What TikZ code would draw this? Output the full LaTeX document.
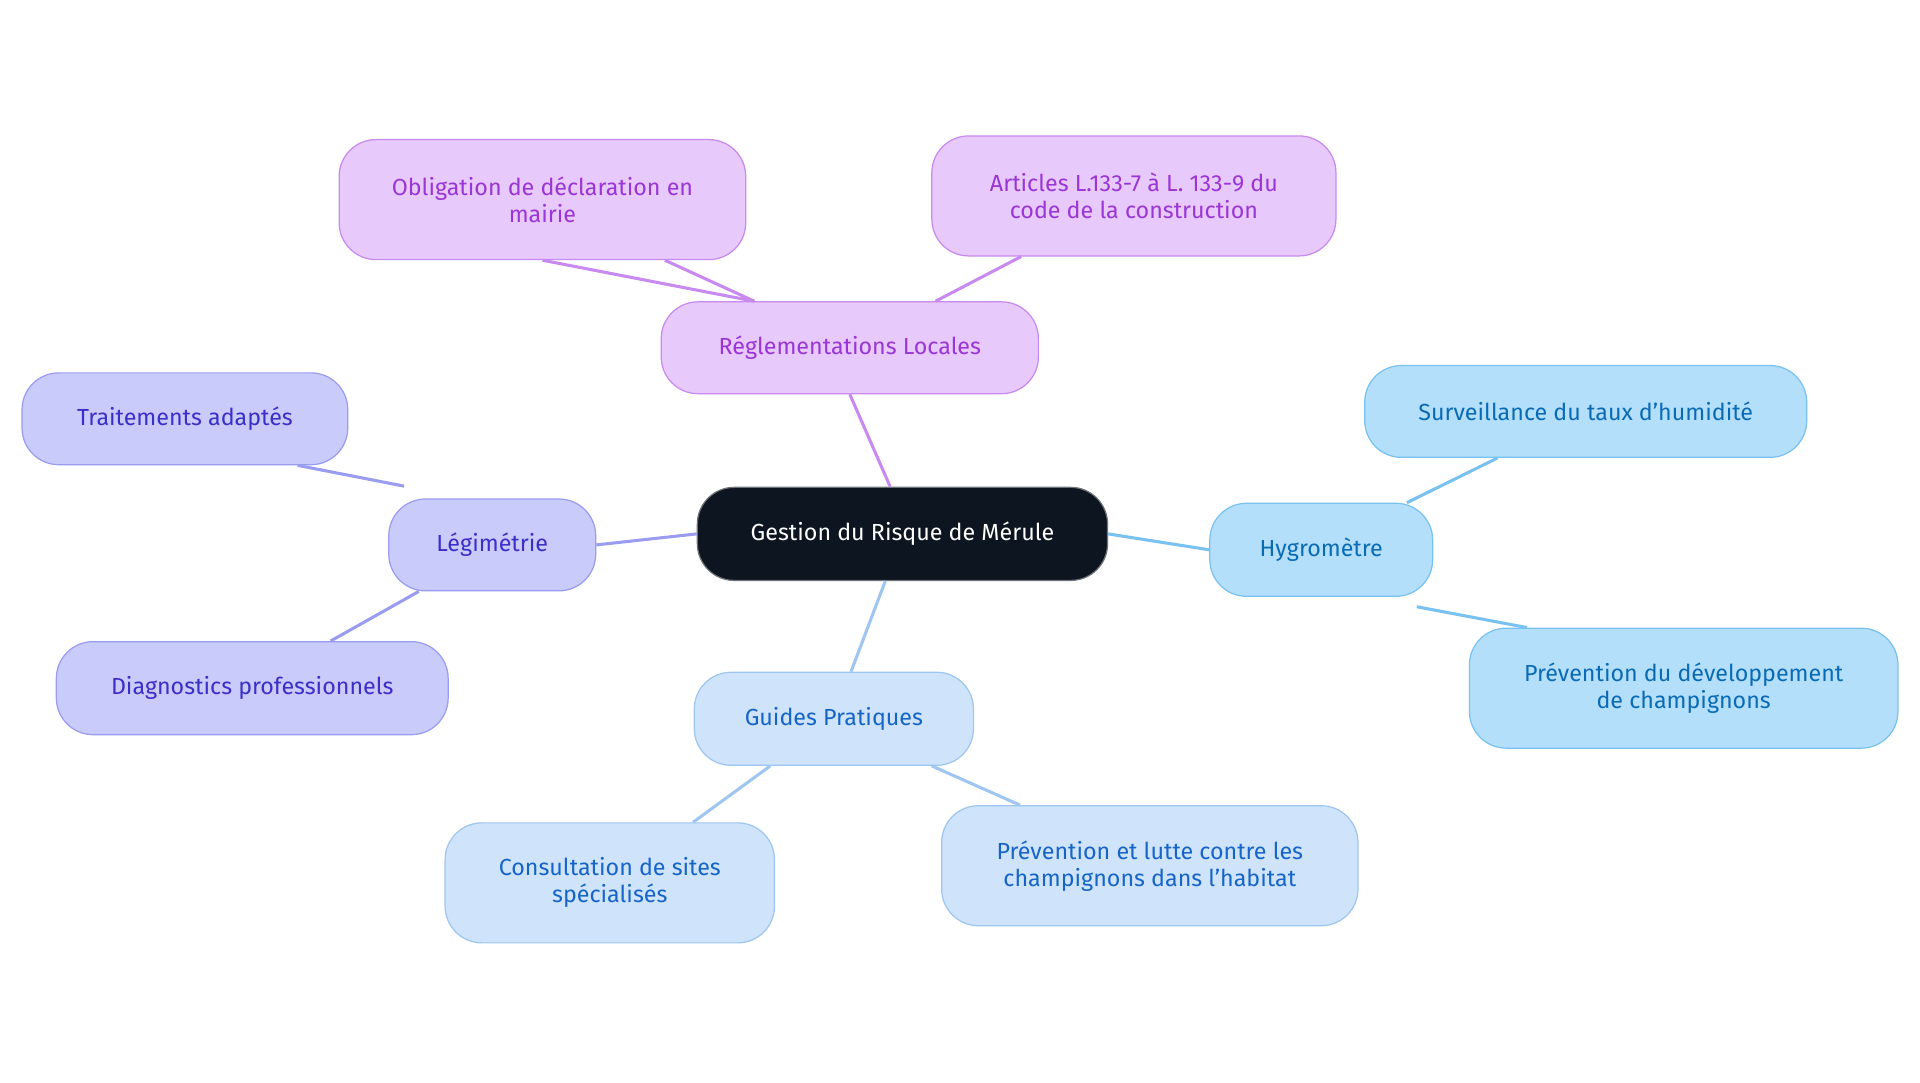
\documentclass[tikz,border=0pt]{standalone}
\usepackage{fontspec}
\setmainfont{Fira Sans}
\begin{document}
\begin{tikzpicture}[x=1pt,y=-1pt,
 box/.style={draw,rounded corners=30pt,line width=1pt,align=center,inner sep=0pt,font=\fontsize{19}{22}\selectfont},
 cR/.style={box,fill=black!85!blue!90,draw=black!70,text=white},
 cP/.style={box,fill=purple1,draw=purple2,text=purple3},
 cV/.style={box,fill=violet1,draw=violet2,text=violet3},
 cB/.style={box,fill=blue1,draw=blue2,text=blue3},
 cG/.style={box,fill=guide1,draw=guide2,text=guide3},
 ed/.style={line width=2.5pt}]
\definecolor{rootc}{HTML}{0D1520}
\definecolor{purple1}{HTML}{E7C9FB}\definecolor{purple2}{HTML}{C88AF0}\definecolor{purple3}{HTML}{9A35D6}
\definecolor{violet1}{HTML}{C9CBFB}\definecolor{violet2}{HTML}{9A9CF0}\definecolor{violet3}{HTML}{3A2FC8}
\definecolor{blue1}{HTML}{B4DFFB}\definecolor{blue2}{HTML}{79C1F0}\definecolor{blue3}{HTML}{0A6BB5}
\definecolor{guide1}{HTML}{CFE3FB}\definecolor{guide2}{HTML}{9EC6F0}\definecolor{guide3}{HTML}{1565C8}
\useasboundingbox (0,0) rectangle (1568,884);
\node[box,fill=rootc,draw=rootc!60,text=white,minimum width=335pt,minimum height=76pt] (root) at (737,436) {Gestion du Risque de Mérule};
\node[cP,minimum width=308pt,minimum height=75pt] (reg) at (694,284) {Réglementations Locales};
\node[cP,minimum width=332pt,minimum height=98pt] (obl) at (443,163) {Obligation de déclaration en\\mairie};
\node[cP,minimum width=330pt,minimum height=98pt] (art) at (926,160) {Articles L.133-7 à L. 133-9 du\\code de la construction};
\node[cV,minimum width=169pt,minimum height=75pt] (leg) at (402,445) {Légimétrie};
\node[cV,minimum width=266pt,minimum height=75pt] (tra) at (151,342) {Traitements adaptés};
\node[cV,minimum width=320pt,minimum height=76pt] (dia) at (206,562) {Diagnostics professionnels};
\node[cB,minimum width=182pt,minimum height=76pt] (hyg) at (1079,449) {Hygromètre};
\node[cB,minimum width=361pt,minimum height=75pt] (sur) at (1295,336) {Surveillance du taux d'humidité};
\node[cB,minimum width=350pt,minimum height=98pt] (pdv) at (1375,562) {Prévention du développement\\de champignons};
\node[cG,minimum width=228pt,minimum height=76pt] (gui) at (681,587) {Guides Pratiques};
\node[cG,minimum width=269pt,minimum height=98pt] (con) at (498,721) {Consultation de sites\\spécialisés};
\node[cG,minimum width=340pt,minimum height=98pt] (plu) at (939,707) {Prévention et lutte contre les\\champignons dans l'habitat};
\begin{scope}[on background layer/.style={}]
\end{scope}
\pgfsetlayers{main}
\begin{pgfonlayer}{main}\end{pgfonlayer}
\draw[ed,purple2] (root.north) ++(-10,0) -- (reg.south);
\draw[ed,purple2] (reg.north) ++(-78,0) -- (obl.south) ++(100,0);
\draw[ed,purple2] ([xshift=-78pt]reg.north) -- ([xshift=100pt]obl.south);
\draw[ed,purple2] ([xshift=70pt]reg.north) -- ([xshift=-92pt]art.south);
\draw[ed,violet2] (root.west) -- (leg.east);
\draw[ed,violet2] ([xshift=-72pt,yshift=10pt]leg.north) -- ([xshift=92pt]tra.south);
\draw[ed,violet2] ([xshift=-60pt]leg.south) -- ([xshift=64pt]dia.north);
\draw[ed,blue2] (root.east) -- (hyg.west);
\draw[ed,blue2] ([xshift=70pt]hyg.north) -- ([xshift=-72pt]sur.south);
\draw[ed,blue2] ([xshift=78pt,yshift=-8pt]hyg.south) -- ([xshift=-128pt]pdv.north);
\draw[ed,guide2] ([xshift=-14pt]root.south) -- ([xshift=14pt]gui.north);
\draw[ed,guide2] ([xshift=-52pt]gui.south) -- ([xshift=68pt]con.north);
\draw[ed,guide2] ([xshift=80pt]gui.south) -- ([xshift=-106pt]plu.north);
\end{tikzpicture}
\end{document}
